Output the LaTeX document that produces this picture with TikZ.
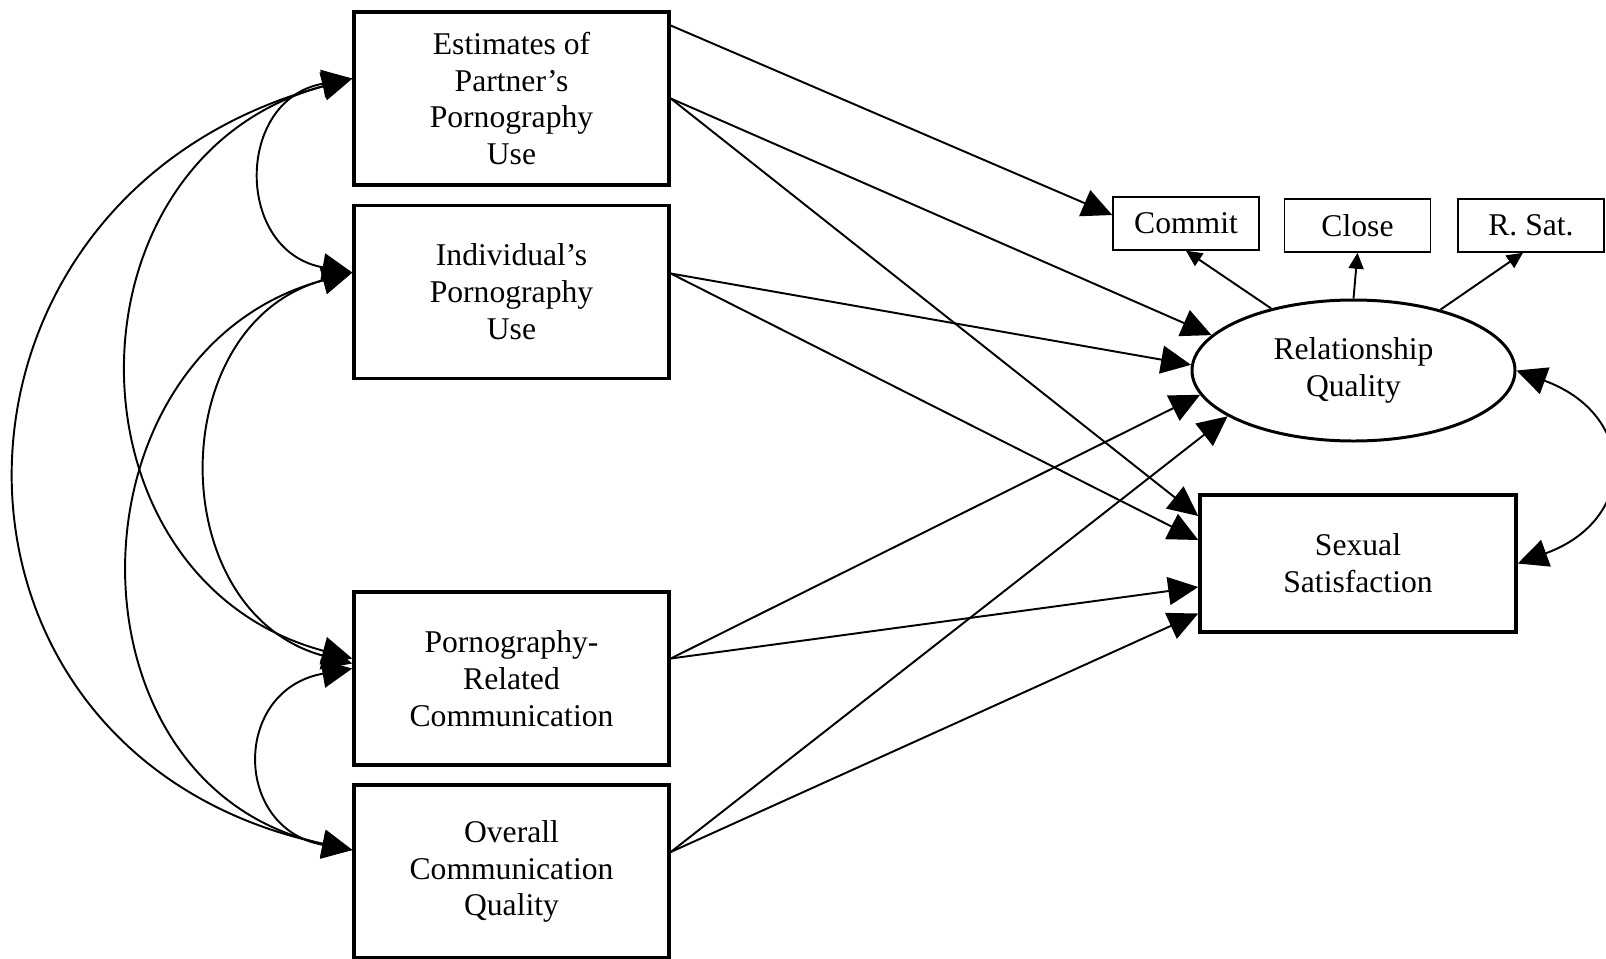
\documentclass[tikz,border=0pt]{standalone}
\usepackage{fontspec}
\setmainfont{Liberation Serif}
\usetikzlibrary{arrows.meta,shapes.geometric,positioning}

\tikzset{
	varbox/.style={draw, line width=2pt, minimum width=6.3cm, minimum height=3.46cm, inner sep=0pt, align=center, font=\fontsize{18}{21}\selectfont},
	itembox/.style={draw, line width=0.85pt, minimum width=2.92cm, minimum height=1.06cm, inner sep=0pt, font=\fontsize{18}{21}\selectfont},
	latent/.style={draw, ellipse, line width=1.7pt, minimum width=6.46cm, minimum height=2.82cm, inner sep=0pt, align=center, font=\fontsize{18}{21}\selectfont},
	regr/.style={-{Triangle[length=0.6cm,width=0.56cm]}, line width=1.1pt},
	load/.style={-{Triangle[length=0.32cm,width=0.3cm]}, line width=1.1pt},
	cov/.style={{Triangle[length=0.6cm,width=0.56cm]}-{Triangle[length=0.6cm,width=0.56cm]}, line width=1.1pt}
}

\begin{document}
\begin{tikzpicture}
		\useasboundingbox (0,0) rectangle (32.12,-19.16);

		\node[varbox] (est) at (10.23,-1.97) {Estimates of\\Partner’s\\Pornography\\Use};
		\node[varbox] (ind) at (10.23,-5.84) {Individual’s\\Pornography\\Use};
		\node[varbox] (prc) at (10.23,-13.57) {Pornography-\\Related\\Communication};
		\node[varbox] (ocq) at (10.23,-17.43) {Overall\\Communication\\Quality};

		\node[itembox] (commit) at (23.72,-4.47) {Commit};
		\node[itembox] (close) at (27.15,-4.51) {Close};
		\node[itembox] (rsat) at (30.62,-4.51) {R. Sat.};
		\node[latent] (rq) at (27.07,-7.41) {Relationship\\Quality};
		\node[varbox, minimum width=6.32cm, minimum height=2.74cm] (sexsat) at (27.16,-11.27) {Sexual\\Satisfaction};

		\draw[regr] ([yshift=1.46cm]est.east) -- ([yshift=0.17cm]commit.west);
		\draw[regr] (est.east) -- (rq.166);
		\draw[regr] (est.east) -- ([yshift=0.95cm]sexsat.west);
		\draw[regr] ([yshift=0.37cm]ind.east) -- (rq.178);
		\draw[regr] ([yshift=0.37cm]ind.east) -- ([yshift=0.47cm]sexsat.west);
		\draw[regr] ([yshift=0.4cm]prc.east) -- (rq.189);
		\draw[regr] ([yshift=0.4cm]prc.east) -- ([yshift=-0.47cm]sexsat.west);
		\draw[regr] ([yshift=0.39cm]ocq.east) -- (rq.200);
		\draw[regr] ([yshift=0.39cm]ocq.east) -- ([yshift=-1cm]sexsat.west);

		\draw[load] (rq.143) -- (commit.south);
		\draw[load] (rq.north) -- (close.south);
		\draw[load] (rq.35) -- ([xshift=-0.16cm]rsat.south);

		\draw[cov] (rq.east) to[out=-20,in=20,looseness=1.7] (sexsat.east);

		\draw[cov] ([yshift=0.4cm]est.west) to[out=190,in=170,looseness=1.58] ([yshift=0.39cm]ind.west);
		\draw[cov] ([yshift=0.4cm]est.west) to[out=195,in=165,looseness=1.35] ([yshift=0.4cm]prc.west);
		\draw[cov] ([yshift=0.4cm]est.west) to[out=195,in=168,looseness=1.52] ([yshift=0.43cm]ocq.west);
		\draw[cov] ([yshift=0.39cm]ind.west) to[out=195,in=165,looseness=1.29] ([yshift=0.3cm]prc.west);
		\draw[cov] ([yshift=0.39cm]ind.west) to[out=195,in=168,looseness=1.34] ([yshift=0.43cm]ocq.west);
		\draw[cov] ([yshift=0.2cm]prc.west) to[out=190,in=170,looseness=1.72] ([yshift=0.43cm]ocq.west);
	\end{tikzpicture}
\end{document}
